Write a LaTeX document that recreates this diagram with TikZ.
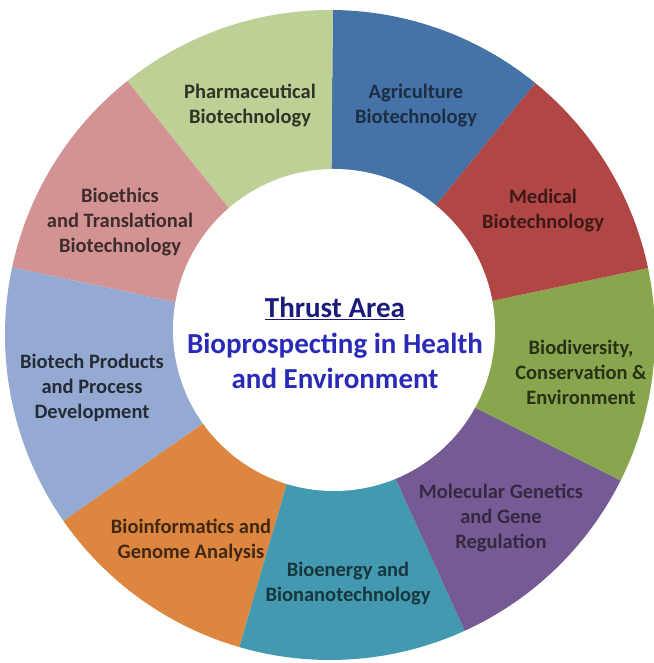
\documentclass[tikz,border=0pt]{standalone}
\usepackage{fontspec}
\setmainfont{Carlito}
\usepackage{xcolor}
\usepackage{tikz}
\definecolor{agriblue}{HTML}{4572A7}
\definecolor{pharmgreen}{HTML}{BDD197}
\definecolor{ethicpink}{HTML}{D39393}
\definecolor{prodblue}{HTML}{95AAD3}
\definecolor{infoorange}{HTML}{DD8640}
\definecolor{energyteal}{HTML}{4299B0}
\definecolor{genepurple}{HTML}{765A93}
\definecolor{diversgreen}{HTML}{89A54E}
\definecolor{medred}{HTML}{B04745}
\definecolor{thrustnavy}{HTML}{1B1B7A}
\definecolor{thrustblue}{HTML}{2A2AB8}
\newcommand{\ringpart}[3]{%
  \fill[#1] (330,328) -- ++(#2:325)
    arc[start angle=#2,end angle=#3,radius=325] -- cycle;
}
\tikzset{
  partlabel/.style={align=center,font=\bfseries\fontsize{20.5}{25}\selectfont},
  hublabel/.style={align=center,font=\bfseries\fontsize{29}{35.5}\selectfont}
}

\begin{document}
\begin{tikzpicture}[x=1pt,y=1pt]
\useasboundingbox (0,0) rectangle (653,663);
\fill[white] (0,0) rectangle (653,663);

% ring segments, counter-clockwise from Agriculture.
\ringpart{agriblue}{50.8}{89.5}
\ringpart{pharmgreen}{89.5}{128.6}
\ringpart{ethicpink}{128.6}{168}
\ringpart{prodblue}{168}{214.9}
\ringpart{infoorange}{214.9}{253.8}
\ringpart{energyteal}{253.8}{294.5}
\ringpart{genepurple}{294.5}{333.4}
\ringpart{diversgreen}{333.4}{371.9}
\ringpart{medred}{11.9}{50.8}

% hub.
\fill[white] (334,333) circle (161);
\node[hublabel] (hub) at (335,320)
  {\textcolor{thrustnavy}{\underline{Thrust Area}}\\
   \textcolor{thrustblue}{Bioprospecting in Health}\\
   \textcolor{thrustblue}{and Environment}};

% segment labels.
\node[partlabel,text=pharmgreen!25!black] (pharma) at (250,557)
  {Pharmaceutical\\Biotechnology};
\node[partlabel,text=agriblue!40!black] (agri) at (416,557)
  {Agriculture\\Biotechnology};
\node[partlabel,text=medred!35!black] (medical) at (543,452)
  {Medical\\Biotechnology};
\node[partlabel,text=diversgreen!30!black] (divers) at (581,291)
  {Biodiversity,\\Conservation \&\\Environment};
\node[partlabel,text=genepurple!45!black] (genetics) at (501,145)
  {Molecular Genetics\\and Gene\\Regulation};
\node[partlabel,text=energyteal!35!black] (energy) at (348,79)
  {Bioenergy and\\Bionanotechnology};
\node[partlabel,text=infoorange!30!black] (informatics) at (191,123)
  {Bioinformatics and\\Genome Analysis};
\node[partlabel,text=prodblue!25!black] (products) at (92,275)
  {Biotech Products\\and Process\\Development};
\node[partlabel,text=ethicpink!30!black] (ethics) at (120,441)
  {Bioethics\\and Translational\\Biotechnology};

\end{tikzpicture}
\end{document}
